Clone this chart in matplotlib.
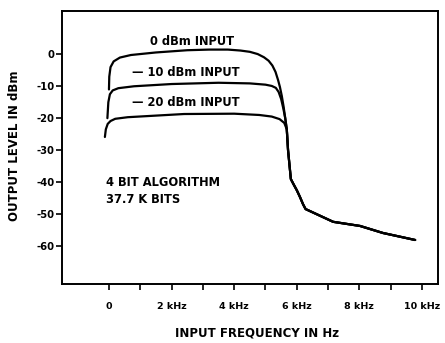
import matplotlib
matplotlib.use("Agg")
import matplotlib.pyplot as plt

# Output level vs input frequency for three input levels (kHz, dBm)
tail_freq = [5.72, 5.81, 5.9, 6.0, 6.1, 6.2, 6.28, 7.16, 8.02, 8.75, 9.78]
tail_level = [-30.0, -39.1, -40.8, -42.6, -44.7, -47.0, -48.5, -52.5, -53.8, -56.0, -58.2]

freq_0dbm = [0.0, 0.01, 0.05, 0.15, 0.35, 0.7, 1.5, 2.5, 3.2, 3.8, 4.2, 4.5, 4.75, 4.95,
             5.1, 5.22, 5.32, 5.4, 5.46, 5.52, 5.58, 5.63, 5.68] + tail_freq
level_0dbm = [-11.0, -7.0, -4.0, -2.2, -1.0, -0.2, 0.6, 1.3, 1.5, 1.5, 1.2, 0.8, 0.1, -0.9,
              -2.0, -3.5, -5.5, -8.0, -10.2, -13.0, -16.5, -20.0, -23.5] + tail_level

freq_10dbm = [-0.05, -0.02, 0.03, 0.12, 0.3, 0.8, 2.0, 3.5, 4.5, 5.0, 5.2, 5.33, 5.42,
              5.5, 5.57, 5.63, 5.68] + tail_freq
level_10dbm = [-20.0, -15.0, -12.5, -11.3, -10.6, -10.0, -9.3, -8.9, -9.1, -9.5, -9.9, -10.5,
               -11.8, -14.0, -17.0, -20.0, -23.5] + tail_level

freq_20dbm = [-0.13, -0.1, -0.04, 0.05, 0.2, 0.6, 2.4, 4.0, 4.8, 5.2, 5.45, 5.6,
              5.68] + tail_freq
level_20dbm = [-25.9, -23.5, -21.8, -20.9, -20.2, -19.7, -18.7, -18.6, -19.0, -19.5, -20.3,
               -21.5, -23.5] + tail_level

x_ticks = [0, 1, 2, 3, 4, 5, 6, 7, 8, 9, 10]
x_tick_labels = ["0", "", "2 kHz", "", "4 kHz", "", "6 kHz", "", "8 kHz", "", "10 kHz"]
y_ticks = [0, -10, -20, -30, -40, -50, -60]
y_tick_labels = ["0", "-10", "-20", "-30", "-40", "-50", "-60"]

plt.rcParams["font.family"] = ["DejaVu Sans"]
plt.rcParams["font.weight"] = "bold"

fig = plt.figure(figsize=(4.45, 3.43), dpi=100)
ax = fig.add_axes([62 / 445, 1 - 284 / 343, (438 - 62) / 445, (284 - 11) / 343])

for fx, ly in [(freq_0dbm, level_0dbm), (freq_10dbm, level_10dbm), (freq_20dbm, level_20dbm)]:
    ax.plot(fx, ly, color="black", lw=1.6, solid_capstyle="round", solid_joinstyle="round")

ax.set_xlim(-1.5, 10.51)
ax.set_ylim(-72.0, 13.6)

ax.set_xticks(x_ticks)
ax.set_xticklabels(x_tick_labels, fontsize=6.8, fontweight="bold")
ax.set_yticks(y_ticks)
ax.set_yticklabels(y_tick_labels, fontsize=7.2, fontweight="bold")
ax.tick_params(axis="both", direction="out", length=4, width=1.2, color="black")
ax.tick_params(axis="x", pad=9)
ax.tick_params(axis="y", pad=1.5)

for sp in ax.spines.values():
    sp.set_linewidth(1.4)

txt = dict(fontsize=8.3, fontweight="bold", color="black")
ax.text(2.65, 4.0, "0 dBm INPUT", ha="center", va="center", **txt)
ax.text(2.45, -5.8, "— 10 dBm INPUT", ha="center", va="center", **txt)
ax.text(2.45, -15.0, "— 20 dBm INPUT", ha="center", va="center", **txt)
ax.text(-0.1, -40.3, "4 BIT ALGORITHM", ha="left", va="center", **txt)
ax.text(-0.1, -45.6, "37.7 K BITS", ha="left", va="center", **txt)

fig.text(257 / 445, 1 - 333 / 343, "INPUT FREQUENCY IN Hz", ha="center", va="center",
         fontsize=8.5, fontweight="bold")
fig.text(15 / 445, 1 - 146 / 343, "OUTPUT LEVEL IN dBm", ha="center", va="center",
         rotation=90, fontsize=8.5, fontweight="bold")

fig.savefig("out.png", dpi=100, facecolor="white")
